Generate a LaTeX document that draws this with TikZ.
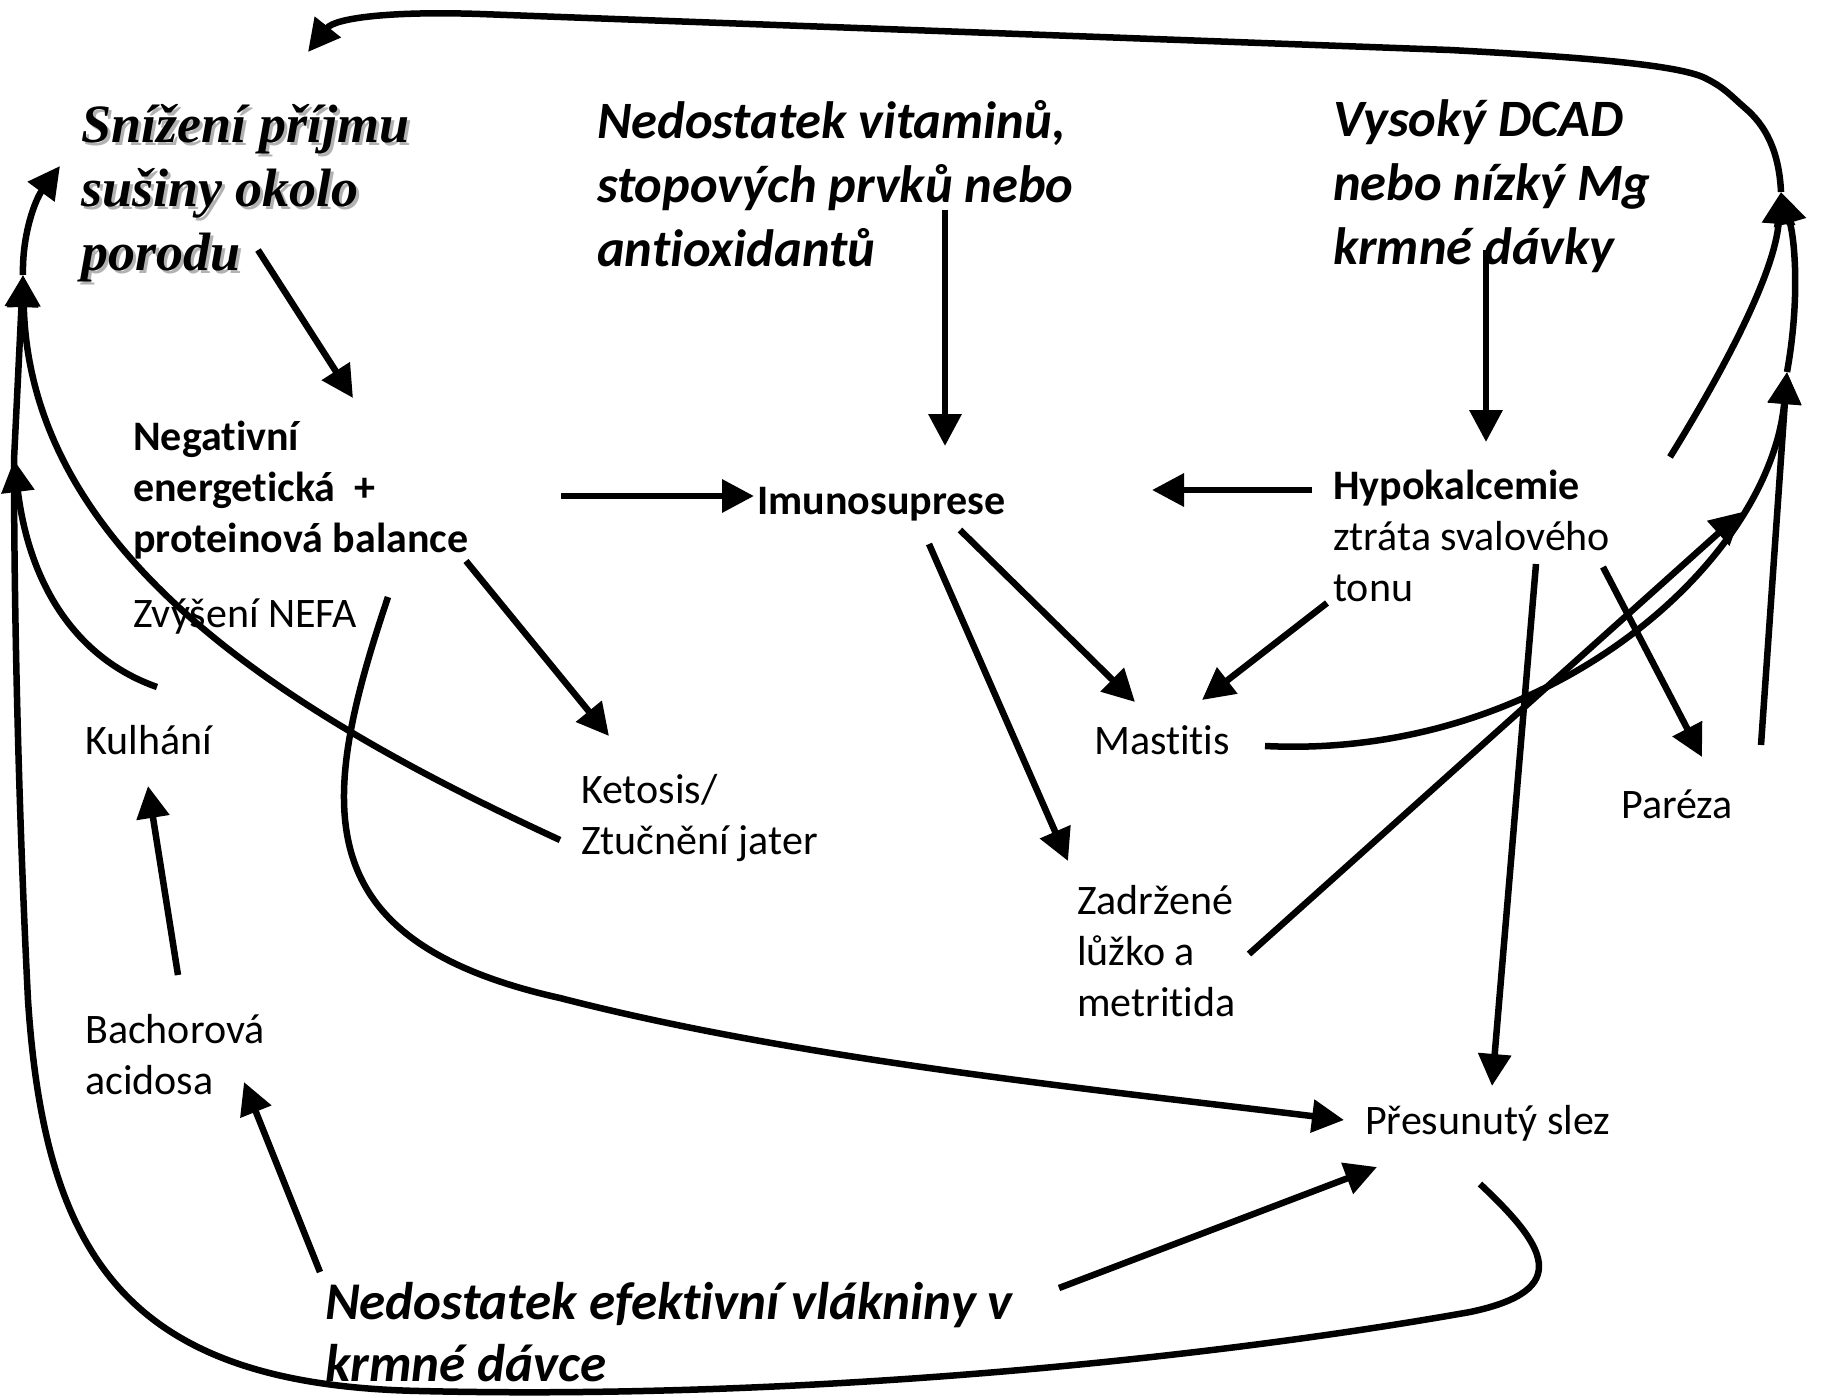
\documentclass[tikz,border=0pt]{standalone}
\usepackage{fontspec}
\setmainfont{Carlito}[Ligatures=NoCommon]
\newfontfamily\tnr{Liberation Serif}
\usetikzlibrary{arrows.meta}
\begin{document}
\begin{tikzpicture}[x=1pt,y=-1pt,
  lbl/.style={anchor=base west, inner sep=0pt, align=left, font=\fontsize{42}{51}\selectfont},
  lblb/.style={lbl, font=\fontsize{42}{51}\selectfont\bfseries},
  hdr/.style={anchor=base west, inner sep=0pt, align=left, font=\fontsize{52.5}{64}\selectfont\bfseries\itshape},
  arr/.style={line width=6.5pt, -{Triangle[length=32pt,width=32pt]}},
  ln/.style={line width=6.5pt}]
\useasboundingbox (0,0) rectangle (1825,1397);
\fill[white] (0,0) rectangle (1825,1397);
% texts (base = baseline of the last line)
\node[anchor=base west, inner sep=0pt, align=left, text=black!30, font=\fontsize{54}{64}\selectfont\tnr\bfseries\itshape] (snzsh) at (84,273) {Snížení příjmu\\sušiny okolo\\porodu};
\node[anchor=base west, inner sep=0pt, align=left, font=\fontsize{54}{64}\selectfont\tnr\bfseries\itshape] (snz) at (81,270) {Snížení příjmu\\sušiny okolo\\porodu};
\node[hdr] (vit) at (597,266) {Nedostatek vitaminů,\\stopových prvků nebo\\antioxidantů};
\node[hdr] (dcad) at (1333,264) {Vysoký DCAD\\nebo nízký Mg\\krmné dávky};
\node[lblb] (neg) at (133,552) {Negativní\\energetická\ \ +\\proteinová balance};
\node[lbl] (nefa) at (133,627) {Zvýšení NEFA};
\node[lblb] (imu) at (757,514) {Imunosuprese};
\node[lbl] (hypo) at (1333,601) {\textbf{Hypokalcemie}\\ztráta svalového\\tonu};
\node[lbl] (kul) at (85,754) {Kulhání};
\node[lbl] (ket) at (581,854) {Ketosis/\\Ztučnění jater};
\node[lbl] (mast) at (1094,754) {Mastitis};
\node[lbl] (par) at (1621,818) {Paréza};
\node[lbl] (zad) at (1077,1016) {Zadržené\\lůžko a\\metritida};
\node[lbl] (bach) at (85,1094) {Bachorová\\acidosa};
\node[lbl] (pres) at (1365,1134) {Přesunutý slez};
\node[hdr, font=\fontsize{53}{62}\selectfont\bfseries\itshape] (vlak) at (325,1381) {Nedostatek efektivní vlákniny v\\krmné dávce};
% connector end points
\coordinate (a1) at (258,250); \coordinate (a2) at (353,398);
\coordinate (b1) at (945,210); \coordinate (b2) at (945,446);
\coordinate (c1) at (1486,250); \coordinate (c2) at (1486,442);
\coordinate (d1) at (561,496); \coordinate (d2) at (754,496);
\coordinate (e1) at (1312,490); \coordinate (e2) at (1152,490);
\coordinate (f1) at (466,561); \coordinate (f2) at (609,736);
\coordinate (g1) at (960,530); \coordinate (g2) at (1135,702);
\coordinate (h1) at (929,544); \coordinate (h2) at (1068,861);
\coordinate (i1) at (1327,603); \coordinate (i2) at (1202,700);
\coordinate (j1) at (1536,564); \coordinate (j2) at (1492,1086);
\coordinate (k1) at (1603,567); \coordinate (k2) at (1702,757);
\coordinate (l1) at (1265,746);
\coordinate (m1) at (1249,954); \coordinate (m2) at (1742,512);
\coordinate (n1) at (1761,745);
\coordinate (r1) at (1787,372);
\coordinate (r2) at (1781,192);
\coordinate (p1) at (1670,457);
\coordinate (top) at (308,52);
\coordinate (s1) at (1480,1184);
\coordinate (L1) at (14,460);
\coordinate (L2) at (23,275);
\coordinate (L3) at (60,166);
\coordinate (kul1) at (157,687);
\coordinate (ket1) at (560,840);
\coordinate (v1) at (388,597); \coordinate (v2) at (1344,1120);
\coordinate (w1) at (178,975); \coordinate (w2) at (148,786);
\coordinate (x1) at (320,1272); \coordinate (x2) at (244,1082);
\coordinate (y1) at (1059,1288); \coordinate (y2) at (1377,1167);
% connectors
\draw[arr] (a1) -- (a2);
\draw[arr] (b1) -- (b2);
\draw[arr] (c1) -- (c2);
\draw[arr] (d1) -- (d2);
\draw[arr] (e1) -- (e2);
\draw[arr] (f1) -- (f2);
\draw[arr] (g1) -- (g2);
\draw[arr] (h1) -- (h2);
\draw[arr] (i1) -- (i2);
\draw[arr] (j1) -- (j2);
\draw[arr] (k1) -- (k2);
\draw[arr] (l1) .. controls (1550,760) and (1770,560) .. (r1);
\draw[arr] (m1) -- (m2);
\draw[arr] (n1) -- (r1);
\draw[arr] (r1) .. controls (1800,300) and (1795,240) .. (r2);
\draw[arr] (p1) .. controls (1730,360) and (1775,270) .. (r2);
\draw[arr] (r2) .. controls (1779,150) and (1765,125) .. (1745,108)
  .. controls (1730,95) and (1725,88) .. (1705,78)
  .. controls (1680,66) and (1600,58) .. (1450,50) -- (480,14)
  .. controls (390,11) and (335,18) .. (top);
\draw[arr] (s1) .. controls (1545,1245) and (1575,1290) .. (1470,1312)
  .. controls (1200,1360) and (800,1400) .. (420,1391)
  .. controls (130,1385) and (45,1260) .. (28,1000)
  .. controls (18,800) and (14,600) .. (L1) -- (L2);
\draw[arr] (kul1) .. controls (80,660) and (30,590) .. (L1);
\draw[arr] (ket1) .. controls (300,720) and (30,560) .. (L2);
\draw[arr] (L2) .. controls (22,235) and (35,200) .. (L3);
\draw[arr] (v1) .. controls (320,800) and (300,940) .. (560,998)
  .. controls (800,1060) and (1100,1090) .. (v2);
\draw[arr] (w1) -- (w2);
\draw[arr] (x1) -- (x2);
\draw[arr] (y1) -- (y2);
\end{tikzpicture}
\end{document}
